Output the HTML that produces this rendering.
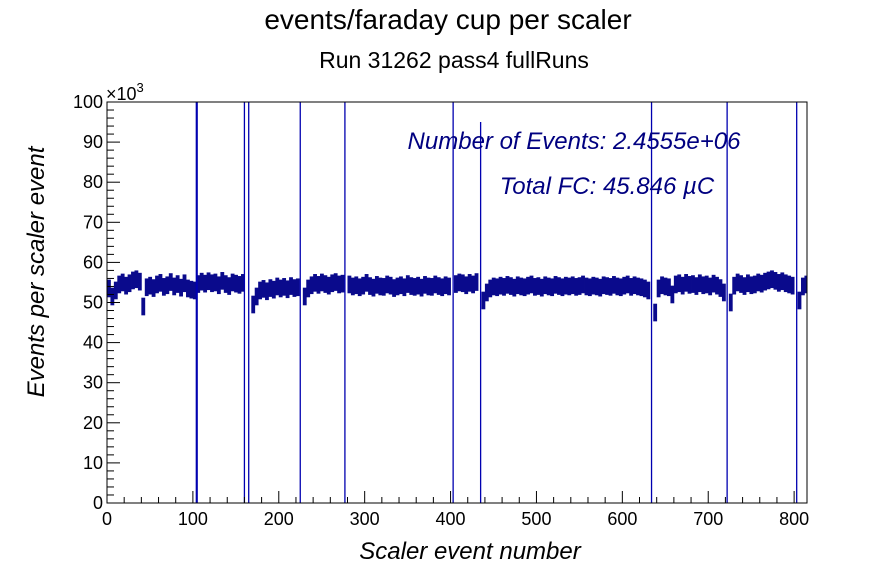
<!DOCTYPE html>
<html><head><meta charset="utf-8"><style>
body{margin:0;background:#fff}
svg{display:block;font-family:"Liberation Sans",sans-serif}
</style></head><body>
<svg id="c" width="896" height="572">
<text x="448" y="29" text-anchor="middle" font-size="28">events/faraday cup per scaler</text>
<text x="454" y="68" text-anchor="middle" font-size="23">Run 31262 pass4 fullRuns</text>
<g id="plot"></g>
<rect x="107" y="102" width="700" height="401" fill="none" stroke="#000" stroke-width="1"/>
<g id="axes"></g>
<text x="106" y="100" font-size="18">×10<tspan dy="-8" font-size="13">3</tspan></text>
<text x="574" y="149" text-anchor="middle" font-size="24" font-style="italic" fill="#000080">Number of Events:  2.4555e+06</text>
<text x="607" y="194" text-anchor="middle" font-size="24" font-style="italic" fill="#000080">Total FC:  45.846 µC</text>
<text x="470" y="559" text-anchor="middle" font-size="24" font-style="italic">Scaler event number</text>
<text transform="translate(44,272) rotate(-90)" text-anchor="middle" font-size="24" font-style="italic">Events per scaler event</text>
</svg>
<script>
const binWidth = 4;
const values = [53.5,51.5,53,54.5,55,54.2,54.8,55.5,55.8,55.2,
49,53.8,54.2,53.6,54.5,54.9,53.9,54.3,55.1,54,
54.6,53.7,54.8,53.5,53.2,53,54.6,55.2,54.7,55.3,
54.8,55,54.3,55.4,54.6,54.1,55,54.7,54.4,54.9,
null,null,49.5,51.5,53,53.4,52.8,53.6,53.2,54,
53.5,53.9,53.3,54.1,53.6,53.8,null,51.5,53.5,54.3,
54.9,54.4,55,54.6,54.2,54.8,55.1,54.5,54.7,null,
54.5,54,54.3,53.8,54.2,54.9,54.1,53.7,54.4,54,
53.9,54.5,54.2,53.6,54,54.3,53.8,54.6,54.1,53.9,
54.2,53.7,54.4,54,53.9,54.5,54.1,53.8,54.3,54,
null,54.6,55,54.8,54.3,54.9,54.5,55.1,null,50.5,
52.5,53.5,54,53.8,54.2,53.9,54.4,54.1,53.7,54.3,
54,53.8,54.2,54.5,53.9,54.1,53.7,54.3,54,53.8,
54.4,54.1,53.8,54.2,54,54.3,53.9,54.1,54.5,54,
53.8,54.2,54,53.7,54.3,54.1,53.9,54.4,54,53.8,
54.2,54.5,53.9,54.3,54,53.8,53.5,53,null,47.5,
53.5,54.3,54,53.8,52,54.5,54.8,54.2,54.9,54.4,
54.6,54.1,54.8,54.3,54.5,54,54.7,54.2,53.6,52.5,
null,50,54.2,55,54.6,54.1,54.8,54.3,54.5,55,
54.7,55.2,55.5,55.8,55.4,54.9,55.3,54.8,54.5,54.2,
null,50.5,54,54.5];
const errHalf = 2.2;
const spikeX = [104,105,160,165,225,277,403,435,634,722,803];
const spikeTop = [100,100,100,100,100,100,100,95,100,100,100];
const xTicks = [0,100,200,300,400,500,600,700,800];
const yTicks = [0,10,20,30,40,50,60,70,80,90,100];

const X0=107,X1=807,XMAX=815,Y0=503,Y1=102,YMAX=100;
const sx=v=>X0+(v/XMAX)*(X1-X0);
const sy=v=>Y0-(v/YMAX)*(Y0-Y1);
const NS='http://www.w3.org/2000/svg';
const plot=document.getElementById('plot'), axes=document.getElementById('axes');
function mk(t,a,p){const e=document.createElementNS(NS,t);for(const k in a)e.setAttribute(k,a[k]);p.appendChild(e);return e;}

values.forEach((v,i)=>{
  if(v===null) return;
  const xa=sx(i*binWidth), xb=sx(Math.min((i+1)*binWidth,XMAX));
  const r=mk('rect',{x:xa,y:sy(v+errHalf),width:xb-xa+0.4,height:sy(v-errHalf)-sy(v+errHalf),fill:'#0a0a8c'},plot);
  
  
});
spikeX.forEach((x,i)=>{
  const l=mk('line',{x1:sx(x),x2:sx(x),y1:sy(0),y2:sy(spikeTop[i]),stroke:'#0000b0',"stroke-width":1.3},plot);
  
  
});
for(let v=0;v<=XMAX;v+=20){
  const major=v%100===0;
  const t=mk('line',{x1:sx(v),x2:sx(v),y1:Y0,y2:Y0-(major?12:6),stroke:'#000'},axes);
  
  
}
xTicks.forEach(v=>{
  const t=mk('text',{x:sx(v),y:Y0+22,"text-anchor":"middle","font-size":18},axes);
  t.textContent=v;
  
  
});
for(let v=0;v<=YMAX;v+=2){
  const major=v%10===0;
  const t=mk('line',{x1:X0,x2:X0+(major?13:7),y1:sy(v),y2:sy(v),stroke:'#000'},axes);
  
  
}
yTicks.forEach(v=>{
  const t=mk('text',{x:X0-4,y:sy(v)+6,"text-anchor":"end","font-size":18},axes);
  t.textContent=v;
  
  
});
</script>
</body></html>
